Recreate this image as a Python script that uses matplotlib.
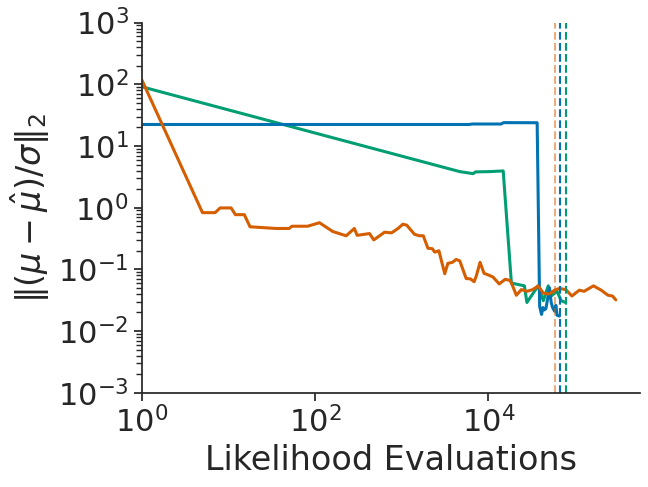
import matplotlib
matplotlib.use("Agg")
import matplotlib.pyplot as plt
import matplotlib.ticker as mticker
import seaborn as sns

# ---- data ----
orange_x = [1, 5.0, 7.0, 8.0, 10.7, 12, 15.2, 17.7, 35, 50, 54, 82, 112, 160, 228, 283, 305,
            424, 475, 632, 760, 905, 1030, 1140, 1400, 1600, 1770, 2000, 2250, 2400, 2680,
            3130, 3400, 3850, 4240, 4670, 5530, 6200, 6830, 7240, 8000, 8900, 9800, 11300,
            13300, 15600, 17800, 19000, 21000, 24000, 27800, 32500, 37500, 43000, 50700,
            58000, 66000, 78000, 92000, 112000, 127000, 163000, 200000, 240000, 270000, 295000]
orange_y = [117, 0.83, 0.83, 0.99, 0.99, 0.77, 0.77, 0.49, 0.46, 0.46, 0.50, 0.50, 0.57, 0.41,
            0.35, 0.46, 0.356, 0.38, 0.30, 0.40, 0.39, 0.46, 0.54, 0.52, 0.37, 0.35, 0.35, 0.22,
            0.216, 0.19, 0.20, 0.085, 0.125, 0.13, 0.145, 0.137, 0.071, 0.070, 0.063, 0.078,
            0.13, 0.086, 0.082, 0.075, 0.058, 0.069, 0.066, 0.054, 0.038, 0.047, 0.044, 0.047,
            0.054, 0.041, 0.040, 0.046, 0.049, 0.047, 0.037, 0.046, 0.044, 0.054, 0.046,
            0.038, 0.037, 0.032]

blue_x = [1, 6000, 6500, 14000, 15000, 36500, 39000, 41000, 42500, 44000, 46000, 48500,
          50700, 53000, 55000, 58000, 60000, 62000, 66000]
blue_y = [22.3, 22.3, 22.7, 22.7, 23.9, 23.8, 0.025, 0.0186, 0.024, 0.022, 0.023, 0.035,
          0.05, 0.029, 0.024, 0.021, 0.026, 0.018, 0.0175]

green_x = [1, 4660, 6650, 7080, 10300, 14800, 18400, 26000, 27800, 32000, 37500, 43000,
           49000, 53000, 62000, 69000, 78000]
green_y = [91, 3.84, 3.56, 3.8, 3.84, 3.94, 0.060, 0.054, 0.029, 0.039, 0.054, 0.031,
           0.054, 0.037, 0.044, 0.031, 0.029]

vline_x = {"orange": 58400, "blue": 67000, "green": 77700}

x_ticks = [1, 1e2, 1e4]
xlim = (1, 5.6e5)
ylim = (1e-3, 1e3)

# ---- style ----
sns.set_theme(style="ticks", font_scale=2)
plt.rcParams["font.family"] = ["DejaVu Sans"]
pal = sns.color_palette("colorblind")
c_blue, c_green, c_orange = pal[0], pal[2], pal[3]

fig = plt.figure(figsize=(6.48, 4.87), dpi=100)
ax = fig.add_axes([0.219, 0.1936, 0.7685, 0.760])

ax.plot(green_x, green_y, color=c_green, lw=2.2)
ax.plot(blue_x, blue_y, color=c_blue, lw=2.2)
ax.plot(orange_x, orange_y, color=c_orange, lw=2.2)

ax.axvline(vline_x["orange"], color=c_orange, ls="--", lw=1.5, alpha=0.5)
ax.axvline(vline_x["blue"], color=c_blue, ls="--", lw=1.5)
ax.axvline(vline_x["green"], color=c_green, ls="--", lw=1.5)

ax.set_xscale("log")
ax.set_yscale("log")
ax.set_xlim(*xlim)
ax.set_ylim(*ylim)
ax.xaxis.set_major_locator(mticker.FixedLocator(x_ticks))
ax.xaxis.set_minor_locator(mticker.NullLocator())
ax.yaxis.set_major_locator(mticker.LogLocator(base=10, numticks=20))
ax.yaxis.set_minor_locator(mticker.LogLocator(base=10, subs=range(2, 10), numticks=20))
ax.yaxis.set_minor_formatter(mticker.NullFormatter())

ax.set_xlabel("Likelihood Evaluations")
ax.set_ylabel(r"$\|(\mu - \hat{\mu})/\sigma\|_2$")
sns.despine(ax=ax)

fig.savefig("out.png", dpi=100)
